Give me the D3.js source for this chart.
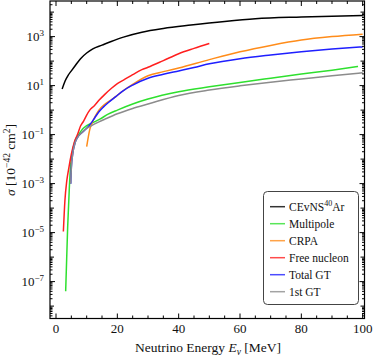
<!DOCTYPE html>
<html><head><meta charset="utf-8">
<script src="https://cdn.jsdelivr.net/npm/d3@7"></script>
<style>body{margin:0;background:#fff}svg{display:block}text{font-family:"Liberation Serif","DejaVu Serif",serif;fill:#111}</style>
</head><body><svg id="c" width="374" height="359"></svg>
<script>
// ---- data (σ in 10^-42 cm^2, energy in MeV) ----
const cevnsE = [2,3,4,5,6,8,10,12,15,18,22,28,35,44,55,65,80,100];
const cevnsS = [7.2,15.8,27,40,59,126,214,316,447,631,955,1510,2140,2950,4170,5370,6310,7240];
const multiE = [3.15,3.8,4.35,4.8,5.1,6.2,7.3,8.9,10,12.7,14.3,17,20,25,30,40,50,60,70,80,90,98.5];
const multiS = [4e-8,1.7e-5,7e-4,6.3e-3,0.0126,0.056,0.095,0.18,0.23,0.34,0.43,0.68,1.0,1.78,2.82,5.6,8.9,13.5,20,29.5,42.7,60];
const crpaE = [10,11,12,13,14,16,18,20,22,25,30,35,40,50,60,70,80,90,100];
const crpaS = [0.032,0.16,0.35,0.63,1.0,1.78,2.63,4.0,6.3,11.2,25.1,37.2,52.5,115,240,437,724,1000,1260];
const freeE = [2.4,2.9,3.5,4.2,5,6,7,8,9,10,11,12.5,14,16,18,20,22,25,28,30,35,40,45,50];
const freeS = [1.1e-5,2e-4,1.26e-3,4.5e-3,0.0158,0.05,0.1,0.224,0.355,0.63,1.0,1.5,2.5,4.5,7.6,12,16.6,28,45,56,105,200,330,525];
const totGtE = [4.8,5,5.5,6.2,7,8.4,10,11.5,12.7,14,15.5,17,19.5,22,25,30,35,40,45,50,60,70,80,90,100];
const totGtS = [1e-3,4.5e-3,0.0178,0.045,0.076,0.12,0.18,0.3,0.5,0.85,1.35,2.0,3.55,6.3,10.5,20,28.8,39.8,55,77.6,126,178,240,309,380];
const gt1E = [4.8,5,5.5,6.2,7,8.4,10,11.6,14,16,20,25,30,40,50,60,70,80,90,100];
const gt1S = [1e-3,4.5e-3,0.0178,0.045,0.076,0.12,0.178,0.234,0.33,0.43,0.71,1.17,1.78,3.98,6.6,9.8,13.8,18.6,25.1,33.1];
const seriesNames = ["CEvNS","Multipole","CRPA","Free nucleon","Total GT","1st GT"];
const seriesColors = ["#000000","#2ee02e","#ff8c1a","#ff1f1f","#1f1fff","#8c8c8c"];
const xTickVals = [0,20,40,60,80,100];
const yTickExps = [-7,-5,-3,-1,1,3];

const series = [
  {E:cevnsE,S:cevnsS},{E:multiE,S:multiS},{E:crpaE,S:crpaS},
  {E:freeE,S:freeS},{E:totGtE,S:totGtS},{E:gt1E,S:gt1S}
];

const svg = d3.select("#c");
const L=50, R=364.5, T=1, B=318.5;
const x = d3.scaleLinear().domain([-1.96,100.6]).range([L,R]);
const y = d3.scaleLog().domain([Math.pow(10,-8.506),Math.pow(10,4.453)]).range([B,T]);

const clip = svg.append("clipPath").attr("id","cl").append("rect").attr("x",L).attr("y",T).attr("width",R-L).attr("height",B-T);

// curves
const line = d3.line().x(d=>x(d[0])).y(d=>y(d[1])).curve(d3.curveMonotoneX);
const g = svg.append("g").attr("clip-path","url(#cl)");
series.forEach((s,i)=>{
  g.append("path").attr("d",line(s.E.map((e,j)=>[e,s.S[j]])))
   .attr("fill","none").attr("stroke",seriesColors[i]).attr("stroke-width",1.5).attr("stroke-linejoin","round");
});

// frame
svg.append("rect").attr("x",L).attr("y",T).attr("width",R-L).attr("height",B-T).attr("fill","none").attr("stroke","#000").attr("stroke-width",1.2);

// x ticks
const tk = svg.append("g").attr("stroke","#000").attr("stroke-width",1);
d3.range(0,101,5).forEach(v=>{
  const len = (v%20===0)?5:3;
  tk.append("line").attr("x1",x(v)).attr("x2",x(v)).attr("y1",B).attr("y2",B-len);
  tk.append("line").attr("x1",x(v)).attr("x2",x(v)).attr("y1",T).attr("y2",T+len);
});
xTickVals.forEach(v=>{
  svg.append("text").attr("x",x(v)).attr("y",333).attr("text-anchor","middle").attr("font-size",13).text(v);
});
// y ticks
for(let k=-9;k<=4;k++){
  for(let m=1;m<=9;m++){
    const v=m*Math.pow(10,k);
    const yy=y(v);
    if(yy<T||yy>B) continue;
    const len = m===1 ? ((k%2!==0)?5:4) : 2.5;
    tk.append("line").attr("x1",L).attr("x2",L+len).attr("y1",yy).attr("y2",yy);
    tk.append("line").attr("x1",R).attr("x2",R-len).attr("y1",yy).attr("y2",yy);
  }
}
yTickExps.forEach(k=>{
  const t = svg.append("text").attr("x",44).attr("y",y(Math.pow(10,k))+4.5).attr("text-anchor","end").attr("font-size",13);
  t.append("tspan").text("10");
  t.append("tspan").attr("font-size",9).attr("dy",-5.5).text(k<0?"\u2212"+(-k):k);
});

// axis titles
const yl = svg.append("text").attr("transform","translate(15,160) rotate(-90)").attr("text-anchor","middle").attr("font-size",13.5);
yl.append("tspan").attr("font-style","italic").text("σ");
yl.append("tspan").text(" [10");
yl.append("tspan").attr("font-size",9.5).attr("dy",-5.5).text("\u221242");
yl.append("tspan").attr("dy",5.5).text(" cm");
yl.append("tspan").attr("font-size",9.5).attr("dy",-5.5).text("2");
yl.append("tspan").attr("dy",5.5).text("]");

const xl = svg.append("text").attr("x",208).attr("y",352).attr("text-anchor","middle").attr("font-size",13.5);
xl.append("tspan").text("Neutrino Energy ");
xl.append("tspan").attr("font-style","italic").text("E");
xl.append("tspan").attr("font-style","italic").attr("font-size",9.5).attr("dy",3).text("ν");
xl.append("tspan").attr("dy",-3).text(" [MeV]");

// legend
const lg = svg.append("g");
lg.append("rect").attr("x",263.5).attr("y",191.5).attr("width",95).attr("height",113).attr("rx",4)
  .attr("fill","#fff").attr("stroke","#444").attr("stroke-width",1);
seriesNames.forEach((n,i)=>{
  const yy = 206.7 + i*17;
  lg.append("line").attr("x1",270).attr("x2",285).attr("y1",yy).attr("y2",yy).attr("stroke",seriesColors[i]).attr("stroke-width",1.5).attr("stroke-opacity",0.8);
  const t = lg.append("text").attr("x",289).attr("y",yy+4).attr("font-size",11.5);
  if(i===0){
    t.append("tspan").text("CEvNS");
    t.append("tspan").attr("font-size",8).attr("dy",-4.5).text("40");
    t.append("tspan").attr("dy",4.5).text("Ar");
  } else t.text(n);
});
</script></body></html>
